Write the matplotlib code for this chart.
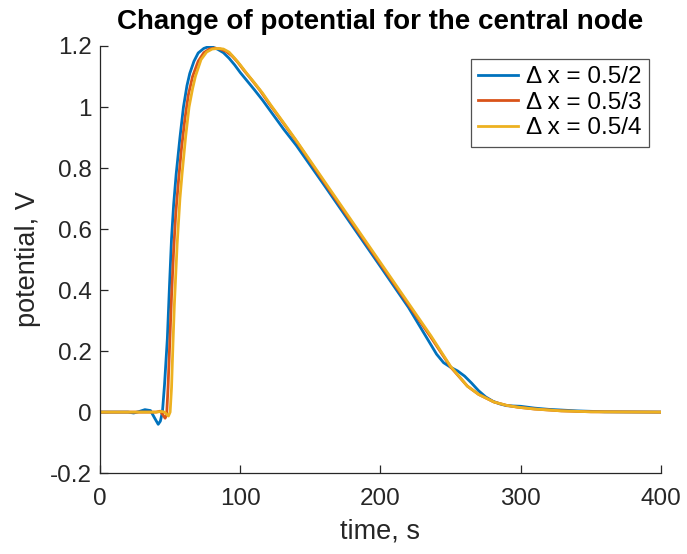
import numpy as np
import matplotlib
matplotlib.use("Agg")
import matplotlib.pyplot as plt

plt.rcParams['font.family'] = ['Liberation Sans', 'DejaVu Sans']
plt.rcParams['axes.unicode_minus'] = False

# Dados (tempo em s, potencial em V)
t_dx2 = [0, 20, 24, 28, 32, 36, 39, 41.5, 43, 44.5, 46, 48, 49.5, 51, 52.5, 54.3, 57,
         59.5, 62, 64, 67, 70, 74, 77, 80, 84, 88, 92, 96, 100, 105, 110, 116, 122,
         131, 140, 160, 180, 200, 220, 240, 245, 250, 255, 260, 265, 270, 275, 280,
         285, 290, 295, 300, 310, 320, 340, 360, 400]
v_dx2 = [0, 0, -0.003, 0.002, 0.008, 0.005, -0.02, -0.04, -0.03, 0.0, 0.09, 0.24,
         0.41, 0.57, 0.68, 0.78, 0.90, 1.0, 1.07, 1.11, 1.15, 1.177, 1.192, 1.197,
         1.197, 1.189, 1.178, 1.16, 1.138, 1.113, 1.085, 1.057, 1.022, 0.984, 0.927,
         0.874, 0.743, 0.61, 0.477, 0.343, 0.19, 0.162, 0.147, 0.135, 0.118, 0.095,
         0.07, 0.05, 0.036, 0.027, 0.021, 0.02, 0.019, 0.013, 0.009, 0.004, 0.001, 0]

t_dx3 = [0, 40, 43, 45, 46.4, 47.5, 48.5, 49.5, 51, 52.5, 54, 56, 58, 60.5, 63, 66,
         70, 74, 78, 82, 86, 90, 94, 98, 103, 108, 114, 120, 130, 140, 164, 188,
         212, 236, 250, 262, 270, 281, 290, 298, 310, 329, 350, 400]
v_dx3 = [0, 0, 0.003, -0.01, -0.02, -0.01, 0.08, 0.2, 0.38, 0.53, 0.65, 0.76, 0.86,
         0.96, 1.04, 1.10, 1.15, 1.178, 1.19, 1.193, 1.19, 1.182, 1.168, 1.148,
         1.118, 1.09, 1.055, 1.015, 0.952, 0.888, 0.725, 0.565, 0.405, 0.245,
         0.148, 0.085, 0.058, 0.033, 0.022, 0.016, 0.01, 0.004, 0.001, 0]

t_dx4 = [0, 40, 44, 46, 48.8, 50, 51, 52, 53, 55, 57, 58.5, 61, 63.5, 66, 68, 72, 76,
         80, 84, 88, 92, 96, 100, 105, 110, 116, 122, 131, 140, 164, 188, 212, 236,
         250, 262, 270, 281, 290, 298, 310, 329, 350, 400]
v_dx4 = [0, 0, 0.002, 0.0, -0.013, 0.0, 0.08, 0.22, 0.35, 0.55, 0.70, 0.78, 0.90,
         1.0, 1.06, 1.10, 1.155, 1.18, 1.19, 1.192, 1.19, 1.18, 1.16, 1.138, 1.108,
         1.08, 1.045, 1.005, 0.948, 0.89, 0.73, 0.57, 0.41, 0.25, 0.15, 0.085,
         0.058, 0.033, 0.022, 0.016, 0.01, 0.004, 0.001, 0]

rotulos = ["\u0394 x = 0.5/2", "\u0394 x = 0.5/3", "\u0394 x = 0.5/4"]
cores = ["#0072BD", "#D95319", "#EDB120"]

fig = plt.figure(figsize=(6.87, 5.54), dpi=100)
ax = fig.add_axes([0.1456, 0.146, 0.8164, 0.771])

for t, v, lab, c in zip([t_dx2, t_dx3, t_dx4], [v_dx2, v_dx3, v_dx4], rotulos, cores):
    ax.plot(t, v, color=c, linewidth=2, label=lab)

ax.set_xlim(0, 400)
ax.set_ylim(-0.2, 1.2)
ax.set_xticks([0, 100, 200, 300, 400])
ax.set_yticks([-0.2, 0, 0.2, 0.4, 0.6, 0.8, 1, 1.2])
ax.set_yticklabels(["-0.2", "0", "0.2", "0.4", "0.6", "0.8", "1", "1.2"])

for s in ["top", "right"]:
    ax.spines[s].set_visible(False)
for s in ["left", "bottom"]:
    ax.spines[s].set_color("#262626")
    ax.spines[s].set_linewidth(0.9)
ax.tick_params(direction="in", length=6, width=0.9, colors="#262626",
               labelsize=17.5)
ax.tick_params(axis="x", pad=11)
ax.tick_params(axis="y", pad=6)

ax.set_xlabel("time, s", fontsize=19.5, color="#262626", labelpad=6)
ax.set_ylabel("potential, V", fontsize=19.5, color="#262626", labelpad=6)
ax.set_title("Change of potential for the central node", fontsize=20,
             fontweight="bold", pad=12)

leg = ax.legend(loc="upper right", bbox_to_anchor=(0.978, 0.97), fontsize=17.5,
                frameon=True, fancybox=False, edgecolor="#262626",
                handlelength=1.65, handletextpad=0.3, borderpad=0.3,
                labelspacing=0.15, borderaxespad=0)
leg.get_frame().set_linewidth(0.9)

plt.savefig("out.png", dpi=100)
